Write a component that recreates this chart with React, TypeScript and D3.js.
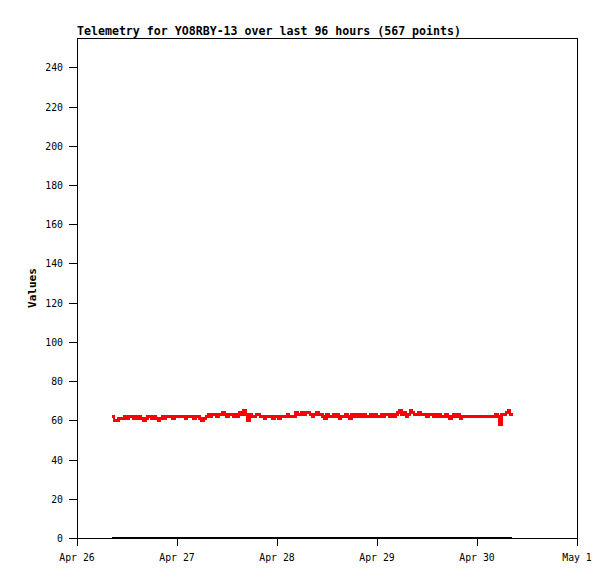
import React from "react";
import * as d3 from "d3";

const TITLE = "Telemetry for YO8RBY-13 over last 96 hours (567 points)";
const Y_LABEL = "Values";
const START = new Date(2024, 3, 26, 8, 24);
const END = new Date(2024, 3, 30, 8, 24);
const X_DOMAIN = [new Date(2024, 3, 26), new Date(2024, 4, 1)];
const Y_MAX = 255;
const Y_TICKS = [0, 20, 40, 60, 80, 100, 120, 140, 160, 180, 200, 220, 240];
const X_TICK_LABELS = ["Apr 26", "Apr 27", "Apr 28", "Apr 29", "Apr 30", "May 1"];

// red series, one reading every ~30 min
const redValues = [
  62,60,60,61,61,61,62,61,62,62,61,62,61,62,61,60,61,62,62,
  61,62,61,60,61,62,61,62,62,62,61,62,62,62,62,62,61,62,62,62,61,62,
  62,61,60,61,62,63,62,63,63,62,63,63,64,63,62,63,63,62,63,62,64,63,
  65,63,60,63,62,62,63,63,62,62,61,62,62,62,61,62,62,61,62,62,62,63,62,62,
  62,64,63,63,64,63,64,64,63,62,63,64,63,63,62,61,63,62,62,63,62,63,61,62,
  62,63,62,61,63,62,63,62,63,62,63,62,62,63,62,63,62,62,63,62,63,63,62,63,62,63,64,
  65,63,64,62,63,65,64,63,63,64,63,63,63,62,63,63,62,63,62,63,62,62,
  63,62,61,62,63,62,63,61,62,62,62,62,62,62,62,62,62,62,62,62,62,62,62,62,63,62,
  58,63,63,64,65,63,64,
];
// black series
const blackValues = [0, 0];

const W = 615, H = 579;
const L = 77, R = 577, T = 38, B = 538;

export default function App() {
  const x = d3.scaleTime().domain(X_DOMAIN).range([L, R]);
  const y = d3.scaleLinear().domain([0, Y_MAX]).range([B, T]);
  const redTimes = d3.scaleLinear().domain([0, redValues.length - 1]).range([+START, +END]);
  const redData = redValues.map((v, i) => ({ t: new Date(redTimes(i)), v }));
  const blackTimes = d3.scaleLinear().domain([0, blackValues.length - 1]).range([+START, +END]);
  const blackData = blackValues.map((v, i) => ({ t: new Date(blackTimes(i)), v }));
  const line = d3.line<{ t: Date; v: number }>().x(d => x(d.t)).y(d => y(d.v)).curve(d3.curveStepAfter);
  const xTicks = d3.timeDay.range(X_DOMAIN[0], d3.timeDay.offset(X_DOMAIN[1], 1));
  const font = "'DejaVu Sans Mono', 'Liberation Mono', monospace";
  return (
    <svg width={W} height={H} style={{ position: "absolute", left: 0, top: 0, background: "#fff" }} shapeRendering="crispEdges">
      <rect x={0} y={0} width={W} height={H} fill="#fff" />
      <text x={L} y={35} fontFamily={font} fontWeight="bold" fontSize={12.3} fill="#000" textLength={384} lengthAdjust="spacingAndGlyphs">{TITLE}</text>
      <rect x={L + 0.5} y={T + 0.5} width={R - L} height={B - T} fill="none" stroke="#000" strokeWidth={1} />
      {Y_TICKS.map(v => (
        <g key={v}>
          <line x1={L - 8} x2={L} y1={Math.round(y(v)) + 0.5} y2={Math.round(y(v)) + 0.5} stroke="#000" />
          <text x={L - 14} y={Math.round(y(v)) + 4} textAnchor="end" fontFamily={font} fontSize={9.8} fill="#000">{v}</text>
        </g>
      ))}
      {xTicks.map((d, i) => (
        <g key={i}>
          <line x1={Math.round(x(d)) + 0.5} x2={Math.round(x(d)) + 0.5} y1={B} y2={B + 8} stroke="#000" />
          <text x={x(d)} y={561} textAnchor="middle" fontFamily={font} fontSize={9.8} fill="#000">{X_TICK_LABELS[i]}</text>
        </g>
      ))}
      <text transform={`translate(36,${(T + B) / 2}) rotate(-90)`} textAnchor="middle" fontFamily={font} fontWeight="bold" fontSize={11} fill="#000">{Y_LABEL}</text>
      <path d={line(redData) || ""} fill="none" stroke="#ff0000" strokeWidth={2.5} />
      <path d={line(blackData) || ""} fill="none" stroke="#000" strokeWidth={2} />
    </svg>
  );
}
